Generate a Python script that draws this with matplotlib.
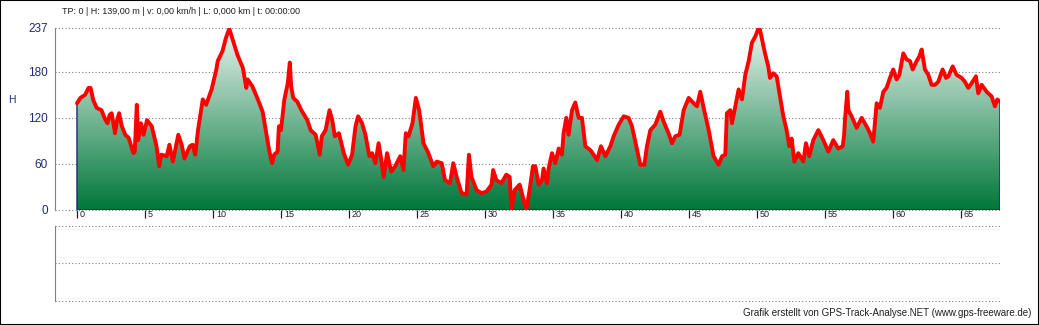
import numpy as np
import matplotlib
matplotlib.use("Agg")
import matplotlib.pyplot as plt
from matplotlib.patches import Polygon, Rectangle
from matplotlib.transforms import ScaledTranslation

plt.rcParams['font.family'] = ['Liberation Sans', 'DejaVu Sans']

# distance (km) and elevation (m) read from the profile
km = [0.0, 0.25, 0.6, 0.85, 1.0, 1.2, 1.45, 1.8, 2.1, 2.25, 2.4, 2.55, 2.8, 2.95,
      3.1, 3.3, 3.55, 3.8, 4.15, 4.25, 4.4, 4.5, 4.7, 4.9, 5.15, 5.5, 5.85, 6.05,
      6.2, 6.6, 6.8, 7.05, 7.45, 7.7, 7.9, 8.3, 8.5, 8.7, 8.9, 9.25, 9.5, 9.9,
      10.25, 10.35, 10.7, 10.95, 11.2, 11.45, 11.8, 12.2, 12.45, 12.55, 12.9,
      13.3, 13.65, 13.9, 14.15, 14.35, 14.5, 14.75, 14.85, 15.0, 15.25, 15.5,
      15.65, 15.75, 15.9, 16.2, 16.5, 16.94, 17.18, 17.55, 17.85, 18.0, 18.28,
      18.57, 18.77, 18.96, 19.26, 19.62, 19.94, 20.23, 20.48, 20.67, 20.96,
      21.21, 21.5, 21.7, 21.94, 22.18, 22.38, 22.55, 22.8, 23.11, 23.4, 23.77,
      24.01, 24.18, 24.38, 24.67, 24.92, 25.16, 25.48, 25.84, 26.2, 26.45,
      26.82, 27.06, 27.43, 27.67, 27.92, 28.28, 28.65, 28.82, 29.01, 29.38,
      29.74, 30.11, 30.48, 30.6, 30.84, 31.21, 31.57, 31.82, 31.94, 32.18,
      32.55, 32.79, 33.04, 33.28, 33.53, 33.7, 33.95, 34.19, 34.31, 34.56,
      34.68, 34.93, 35.17, 35.42, 35.66, 35.78, 35.98, 36.15, 36.4, 36.64,
      36.89, 37.13, 37.38, 37.75, 37.99, 38.24, 38.53, 38.85, 39.22, 39.46,
      39.83, 40.2, 40.56, 40.81, 41.13, 41.42, 41.72, 41.91, 42.16, 42.52,
      42.89, 43.14, 43.5, 43.75, 43.99, 44.31, 44.61, 44.98, 45.34, 45.59,
      45.83, 46.08, 46.45, 46.81, 47.18, 47.43, 47.67, 47.79, 48.04, 48.16,
      48.41, 48.65, 48.9, 49.14, 49.39, 49.63, 49.88, 50.12, 50.22, 50.59,
      50.83, 50.96, 51.2, 51.45, 51.69, 51.94, 52.18, 52.38, 52.55, 52.75,
      53.04, 53.41, 53.6, 53.85, 54.14, 54.51, 54.88, 55.25, 55.61, 55.98,
      56.3, 56.4, 56.47, 56.64, 56.72, 56.96, 57.33, 57.7, 58.06, 58.31,
      58.55, 58.8, 59.04, 59.29, 59.53, 59.78, 60.02, 60.27, 60.47, 60.76,
      61.0, 61.25, 61.45, 61.74, 61.94, 62.11, 62.35, 62.6, 62.84, 63.09,
      63.33, 63.65, 63.9, 64.07, 64.39, 64.68, 65.05, 65.29, 65.54, 65.78,
      66.1, 66.27, 66.52, 66.89, 67.25, 67.5, 67.67, 67.87]
elev = [139, 146, 150, 159, 159, 143, 133, 130, 117, 113, 124, 126, 100, 117,
        126, 109, 98, 94, 74, 76, 137, 91, 113, 98, 117, 109, 83, 57,
        72, 70, 85, 63, 98, 85, 67, 83, 85, 72, 104, 144, 137, 157,
        183, 194, 207, 224, 236, 222, 202, 185, 159, 170, 161,
        144, 128, 102, 76, 61, 72, 76, 109, 104, 144, 165,
        192, 161, 146, 141, 130, 117, 104, 98, 72, 96, 104,
        130, 117, 96, 100, 74, 59, 72, 109, 122, 113,
        98, 70, 74, 61, 87, 65, 43, 74, 50, 57, 70,
        52, 100, 96, 113, 146, 130, 87, 74, 57, 63,
        61, 39, 35, 61, 43, 22, 20, 72, 43, 26,
        22, 24, 33, 52, 39, 35, 46, 43, 0, 26,
        33, 17, 0, 26, 57, 57, 33, 39, 54, 35,
        54, 74, 61, 80, 72, 100, 120, 98, 130, 140,
        120, 120, 83, 78, 72, 65, 83, 70, 83, 96,
        111, 122, 120, 109, 83, 59, 59, 83, 104, 111,
        128, 115, 100, 87, 96, 98, 130, 146, 139, 135,
        154, 133, 104, 70, 59, 70, 72, 126, 130, 113,
        135, 157, 144, 176, 194, 218, 226, 237, 235, 204,
        187, 172, 178, 174, 148, 122, 104, 83, 93, 63,
        74, 63, 87, 70, 91, 104, 91, 76, 91, 80,
        83, 96, 117, 154, 130, 122, 107, 120, 109, 100,
        89, 139, 133, 154, 159, 172, 183, 170, 176, 204,
        196, 194, 183, 194, 200, 209, 183, 176, 163, 163,
        167, 183, 172, 174, 187, 176, 172, 167, 159, 165,
        174, 152, 163, 154, 148, 135, 144, 141]

x_ticks = list(range(0, 66, 5))
y_ticks = [0, 60, 120, 180, 237]
title_text = "TP: 0 | H: 139,00 m | v: 0,00 km/h | L: 0,000 km | t: 00:00:00"
footer_text = "Grafik erstellt von GPS-Track-Analyse.NET (www.gps-freeware.de)"

W, H = 1039, 325
fig = plt.figure(figsize=(W / 100, H / 100), dpi=100)
fig.patch.set_facecolor('white')

navy = '#1c2a7a'
grid_kw = dict(color='#808080', lw=0.8, ls=(0, (1, 2)))

# main elevation panel
ax = fig.add_axes([55 / W, 1 - 210 / H, 945 / W, 182 / H])
x_left = km[-1] - (1000 - 55) / 13.6
ax.set_xlim(x_left, km[-1])
ax.set_ylim(0, 237)
for s in ['top', 'right', 'bottom']:
    ax.spines[s].set_visible(False)
ax.spines['left'].set_color('#808080')
for v in y_ticks:
    ax.axhline(v, zorder=1, clip_on=False, **grid_kw)

# gradient fill clipped to the profile (dark at the bottom, light at the top)
grad = np.linspace(0, 1, 256).reshape(-1, 1)
cmap = matplotlib.colors.LinearSegmentedColormap.from_list('g', ['#00773a', '#e8f4ee'])
im = ax.imshow(grad, cmap=cmap, aspect='auto', extent=[km[0], km[-1], 0, 237],
               origin='lower', zorder=2)
poly = Polygon([(km[0], 0)] + list(zip(km, elev)) + [(km[-1], 0)], closed=True,
               facecolor='none', edgecolor=navy, lw=1.0, zorder=3)
ax.add_patch(poly)
im.set_clip_path(poly)
ax.set_xlim(x_left, km[-1])
ax.set_ylim(0, 237)
ax.plot(km, elev, color='#ff0000', lw=2.8, solid_joinstyle='round',
        solid_capstyle='round', zorder=4)

ax.set_yticks(y_ticks)
ax.set_yticklabels([str(v) for v in y_ticks], color=navy, fontsize=8.5)
ax.tick_params(axis='y', length=0, pad=5)
ax.set_xticks(x_ticks)
ax.set_xticklabels([str(v) for v in x_ticks], fontsize=6.5, color='#202020')
ax.tick_params(axis='x', length=6, width=0.9, color='#202020', pad=-6)
offset = ScaledTranslation(3 / 100, 0, fig.dpi_scale_trans)
for lab in ax.get_xticklabels():
    lab.set_horizontalalignment('left')
    lab.set_transform(lab.get_transform() + offset)

fig.text(8 / W, 1 - 100 / H, "H", color=navy, fontsize=7.5, va='center', ha='left')
fig.text(62 / W, 1 - 11 / H, title_text, fontsize=6.5, color='#202020', va='center', ha='left')
fig.text(1031 / W, 1 - 313 / H, footer_text, fontsize=7.0, color='#202020', va='center', ha='right')

# empty lower panel
ax2 = fig.add_axes([55 / W, 1 - 300.5 / H, 945 / W, 75 / H])
ax2.set_xlim(0, 1)
ax2.set_ylim(0, 1)
ax2.set_xticks([])
ax2.set_yticks([])
for s in ['top', 'right', 'bottom']:
    ax2.spines[s].set_visible(False)
ax2.spines['left'].set_color('#808080')
for v in [0, 0.5, 1]:
    ax2.axhline(v, clip_on=False, **grid_kw)
for v in [0.04, 0.58, 0.95]:
    ax2.axhline(v, color='#e0e0e0', lw=0.6, ls=(0, (1, 2)))

fig.add_artist(Rectangle((0, 0), 1, 1, transform=fig.transFigure, fill=False,
                         edgecolor='black', lw=1.5))

fig.savefig('out.png', dpi=100)
